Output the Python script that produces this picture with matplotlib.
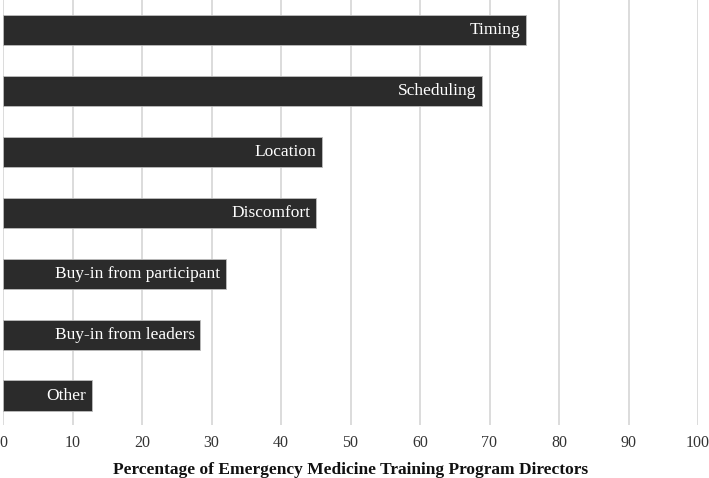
import matplotlib.pyplot as plt

categories = ['Timing', 'Scheduling', 'Location', 'Discomfort',
              'Buy-in from participant', 'Buy-in from leaders', 'Other']
values = [75.2, 68.9, 45.9, 45.0, 32.1, 28.4, 12.8]
xticks = list(range(0, 101, 10))

plt.rcParams['font.family'] = ['Liberation Serif', 'DejaVu Serif']

fig = plt.figure(figsize=(7.09, 4.78), dpi=100)
ax = fig.add_axes([3 / 709, 1 - 425 / 478, 695 / 709, 425 / 478])

pos = list(range(len(categories)))
ax.barh(pos, values, height=0.5, color='#2b2b2b', edgecolor='#bdbdbd',
        linewidth=0.6, zorder=3)
for p, v, c in zip(pos, values, categories):
    ax.text(v - 0.8, p, c, color='white', ha='right', va='center',
            fontsize=12.5, zorder=4)

ax.set_xlim(0, 100)
ax.set_ylim(6.48, -0.49)
ax.set_xticks(xticks)
ax.set_yticks([])
ax.xaxis.grid(True, color='#d6d6d6', linewidth=1.2, zorder=0)
ax.tick_params(axis='x', length=0, pad=7, labelsize=11.5, labelcolor='#333333')
for s in ax.spines.values():
    s.set_visible(False)
ax.set_xlabel('Percentage of Emergency Medicine Training Program Directors',
              fontsize=12.5, fontweight='bold', labelpad=8, color='#111111')

fig.savefig('out.png', dpi=100)
